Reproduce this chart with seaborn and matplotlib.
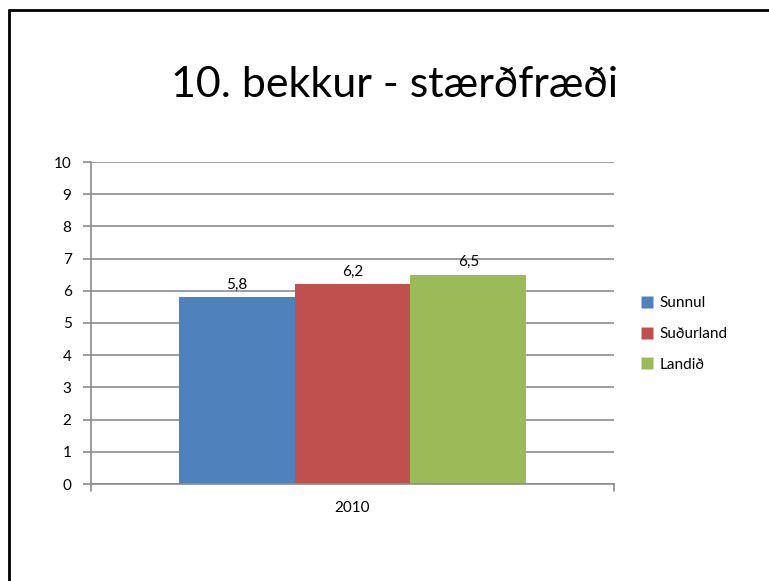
import matplotlib
matplotlib.use("Agg")
import matplotlib.pyplot as plt
import seaborn as sns
import pandas as pd
from matplotlib.lines import Line2D

years = ["2010"]
series = ["Sunnul", "Suðurland", "Landið"]
values = [5.8, 6.2, 6.5]
colors = ["#4F81BD", "#C0504D", "#9BBB59"]
title = "10. bekkur - stærðfræði"

sns.set_theme(style="white")
plt.rcParams["font.family"] = ["Lato", "DejaVu Sans"]
plt.rcParams["text.color"] = "black"
plt.rcParams["xtick.color"] = "black"
plt.rcParams["ytick.color"] = "black"

df = pd.DataFrame({"year": years * len(series), "series": series, "value": values})

fig = plt.figure(figsize=(7.69, 5.81), dpi=100)
ax = fig.add_axes([91/769, 1-484/581, (614-91)/769, (484-162)/581])

sns.barplot(data=df, x="year", y="value", hue="series", hue_order=series,
            palette=colors, width=0.664, ax=ax, saturation=1, legend=True,
            edgecolor="none", linewidth=0)

ax.set_ylim(0, 10)
ax.set_xlim(-0.5, 0.5)
ax.set_yticks(range(0, 11))
ax.yaxis.grid(True, color="#8c8c8c", linewidth=1.2)
ax.set_axisbelow(True)
ax.set_xlabel("")
ax.set_ylabel("")
for s in ["top", "right"]:
    ax.spines[s].set_visible(False)
for s in ["left", "bottom"]:
    ax.spines[s].set_color("#8c8c8c")
    ax.spines[s].set_linewidth(1.2)
ax.tick_params(axis="y", length=6, width=1.2, color="#8c8c8c", labelcolor="black",
               labelsize=11, pad=8, left=True)
ax.tick_params(axis="x", length=0, labelsize=11, pad=12, labelcolor="black")
# end tick marks on category axis
for xv in (-0.5, 0.5):
    ax.plot([xv, xv], [0, -0.22], color="#8c8c8c", lw=1.2, clip_on=False)

for cont in ax.containers:
    labels = [f"{v:.1f}".replace(".", ",") for v in cont.datavalues]
    ax.bar_label(cont, labels=labels, padding=4, fontsize=11, color="black")

handles = [Line2D([0], [0], marker="s", linestyle="none", markersize=8,
                  markerfacecolor=c, markeredgecolor="none") for c in colors]
leg = ax.legend(handles, series, loc="center left", bbox_to_anchor=(626/769, 1-334/581),
                bbox_transform=fig.transFigure, frameon=False, fontsize=11,
                handletextpad=0.3, labelspacing=1.1, handlelength=1.0)
for t in leg.get_texts():
    t.set_color("black")

fig.text(395/769, 1-85/581, title, ha="center", va="center", fontsize=31, color="black")

# border lines (top and left)
fig.add_artist(Line2D([8.5/769, 8.5/769], [0, 1-10/581], transform=fig.transFigure, color="black", lw=2))
fig.add_artist(Line2D([8.5/769, 1], [1-10/581, 1-10/581], transform=fig.transFigure, color="black", lw=2))

fig.savefig("out.png", dpi=100, facecolor="white")
